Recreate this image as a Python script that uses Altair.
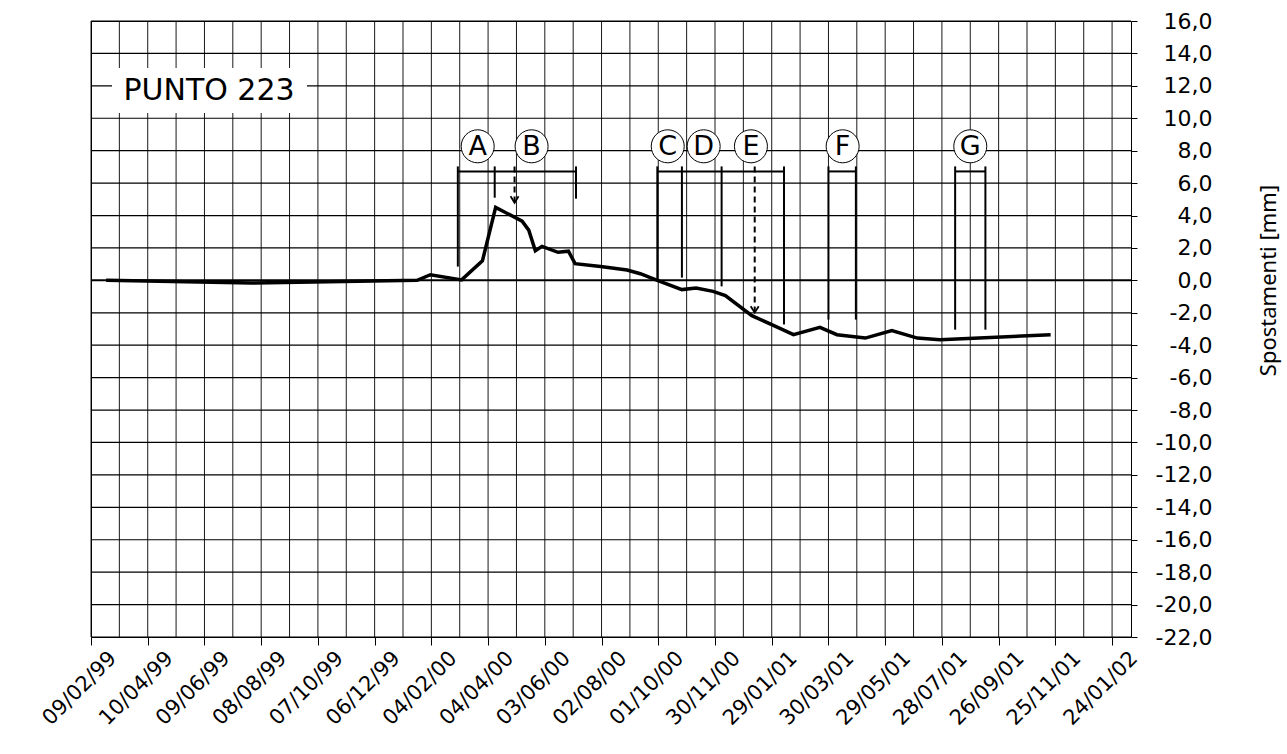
import altair as alt
import pandas as pd

# Excel-style day serials drive the x scale (day 25569 = 1970-01-01)
EPOCH = pd.Timestamp("1899-12-30")


def serials(values, fmt=None):
    return [int((pd.to_datetime(v, format=fmt) - EPOCH).days) for v in values]


# ---- survey readings, point 223 ----
dates = [
    "1999-02-25", "1999-07-29", "2000-01-20", "2000-02-03", "2000-03-07",
    "2000-03-29", "2000-04-12", "2000-05-10", "2000-05-17", "2000-05-24",
    "2000-05-31", "2000-06-17", "2000-06-28", "2000-07-05", "2000-08-01",
    "2000-08-29", "2000-09-12", "2000-09-30", "2000-10-26", "2000-11-10",
    "2000-11-28", "2000-12-11", "2001-01-08", "2001-01-29", "2001-02-21",
    "2001-03-21", "2001-04-08", "2001-05-08", "2001-06-05", "2001-07-02",
    "2001-07-26", "2001-11-20",
]
spostamenti = [
    0.0, -0.16, 0.0, 0.35, 0.03,
    1.2, 4.5, 3.65, 3.1, 1.83,
    2.1, 1.73, 1.8, 1.03, 0.86,
    0.64, 0.41, 0.0, -0.57, -0.47,
    -0.68, -0.94, -2.18, -2.73, -3.35,
    -2.9, -3.35, -3.56, -3.1, -3.56,
    -3.66, -3.35,
]

# ---- axes ----
tick_labels = [
    "09/02/99", "10/04/99", "09/06/99", "08/08/99", "07/10/99", "06/12/99",
    "04/02/00", "04/04/00", "03/06/00", "02/08/00", "01/10/00", "30/11/00",
    "29/01/01", "30/03/01", "29/05/01", "28/07/01", "26/09/01", "25/11/01",
    "24/01/02",
]
x_range = ["09/02/99", "13/02/02"]
y_ticks = list(range(-22, 17, 2))

# ---- work phases: brackets, markers and arrows ----
phase_letters = ["A", "B", "C", "D", "E", "F", "G"]
phase_label_dates = ["2000-03-24", "2000-05-20", "2000-10-11", "2000-11-18",
                     "2001-01-07", "2001-04-14", "2001-08-27"]
phase_label_level = 8.27

bar_start = ["2000-03-03", "2000-09-30", "2001-03-30", "2001-08-11"]
bar_end = ["2000-07-06", "2001-02-11", "2001-04-28", "2001-09-12"]
bar_level = 6.72

mark_dates = ["2000-03-03", "2000-04-11", "2000-07-06", "2000-09-30",
              "2000-10-26", "2000-12-07", "2001-02-11", "2001-03-30",
              "2001-04-28", "2001-08-11", "2001-09-12"]
mark_top = 7.03
mark_bottom = [0.85, 5.1, 5.04, 0.0, 0.17, -0.37, -2.72, -2.42, -2.42, -3.04, -3.04]

arrow_dates = ["2000-05-02", "2001-01-11"]
arrow_tip = [4.79, -1.99]

title_text = "PUNTO 223"

# ---- derived tables ----
tick_vals = serials(tick_labels, "%d/%m/%y")
x_dom = serials(x_range, "%d/%m/%y")
grid_x = [v for t in tick_vals for v in (t, t + 30) if v < x_dom[1]]

line_df = pd.DataFrame({"x": serials(dates), "y": spostamenti})
gx_df = pd.DataFrame({"x": grid_x})
gy_df = pd.DataFrame({"y": [v for v in y_ticks if v != 0]})
zero_df = pd.DataFrame({"y": [0]})
bars_df = pd.DataFrame({"x": serials(bar_start), "x2": serials(bar_end), "y": bar_level})
marks_df = pd.DataFrame({"x": serials(mark_dates), "y": mark_top, "y2": mark_bottom})
arrows_df = pd.DataFrame({"x": serials(arrow_dates), "y": mark_top, "y2": arrow_tip})
labels_df = pd.DataFrame({"x": serials(phase_label_dates), "y": phase_label_level,
                          "t": phase_letters})

FONT = "DejaVu Sans"

xscale = alt.Scale(domain=x_dom, nice=False, zero=False)
yscale = alt.Scale(domain=[y_ticks[0], y_ticks[-1]], nice=False, zero=False)

x_axis = alt.Axis(
    values=tick_vals,
    labelExpr="utcFormat((datum.value - 25569) * 86400000, '%d/%m/%y')",
    labelAngle=-45, labelAlign="right", labelBaseline="top",
    labelOffset=14, labelPadding=2, labelFlush=False, labelOverlap=False,
    labelFont=FONT, labelFontSize=21, labelColor="black",
    tickSize=8, tickColor="black", tickWidth=1,
    grid=False, domain=False, title=None,
)
y_axis = alt.Axis(
    orient="right", values=y_ticks,
    labelExpr="(datum.value < 0 ? '-' : '') + replace(format(abs(datum.value), '.1f'), '.', ',')",
    labelAlign="right", labelBaseline="middle", labelPadding=75,
    labelFlush=False, labelOverlap=False,
    labelFont=FONT, labelFontSize=22, labelColor="black",
    tickSize=6, tickColor="black", tickWidth=1,
    grid=False, domain=False,
    title="Spostamenti [mm]", titleFont="Noto Sans", titleFontSize=22,
    titleFontWeight="normal", titleColor="black", titleAngle=270,
    titleAlign="center", titleBaseline="middle", titleX=137, titleY=259,
)


def X(field="x"):
    return alt.X(f"{field}:Q", scale=xscale, axis=x_axis)


def Y(field="y"):
    return alt.Y(f"{field}:Q", scale=yscale, axis=y_axis)


grid_v = alt.Chart(gx_df).mark_rule(color="black", strokeWidth=1, opacity=0.9).encode(x=X())
grid_h = alt.Chart(gy_df).mark_rule(color="black", strokeWidth=1.2).encode(y=Y())
zero = alt.Chart(zero_df).mark_rule(color="black", strokeWidth=2).encode(y=Y())
series = alt.Chart(line_df).mark_line(color="black", strokeWidth=3.5).encode(x=X(), y=Y())
bars = alt.Chart(bars_df).mark_rule(color="black", strokeWidth=2).encode(
    x=X(), x2="x2:Q", y=Y()
)
marks = alt.Chart(marks_df).mark_rule(color="black", strokeWidth=2).encode(
    x=X(), y=Y(), y2="y2:Q"
)
arrows = alt.Chart(arrows_df).mark_rule(color="black", strokeWidth=2, strokeDash=[6, 4]).encode(
    x=X(), y=Y(), y2="y2:Q"
)
heads = alt.Chart(arrows_df).mark_point(
    shape="M-1,-1.6L0,0L1,-1.6", size=64, filled=False,
    color="black", strokeWidth=1.8, opacity=1,
).encode(x=X(), y=Y("y2"))
circles = alt.Chart(labels_df).mark_point(
    shape="circle", size=1089, fill="white", stroke="black",
    strokeWidth=1, fillOpacity=1, opacity=1,
).encode(x=X(), y=Y())
letters = alt.Chart(labels_df).mark_text(
    font=FONT, fontSize=27, color="black", align="center", baseline="middle", dy=1,
).encode(x=X(), y=Y(), text="t:N")
box = alt.Chart(pd.DataFrame({"t": [title_text]})).mark_rect(color="white").encode(
    x=alt.value(21), x2=alt.value(216), y=alt.value(47), y2=alt.value(92),
)
title = alt.Chart(pd.DataFrame({"t": [title_text]})).mark_text(
    font=FONT, fontSize=30, color="black", align="center", baseline="alphabetic",
).encode(x=alt.value(118), y=alt.value(79), text="t:N")

chart = alt.layer(
    grid_v, grid_h, zero, series, bars, marks, arrows, heads,
    circles, letters, box, title,
).properties(
    width=1040, height=616,
    autosize=alt.AutoSizeParams(type="none"),
    padding={"left": 91, "top": 21, "right": 156, "bottom": 117},
    background="white",
).configure_view(stroke="black", strokeWidth=1)

chart.save("out.html", embed_options={"renderer": "svg", "actions": False})
